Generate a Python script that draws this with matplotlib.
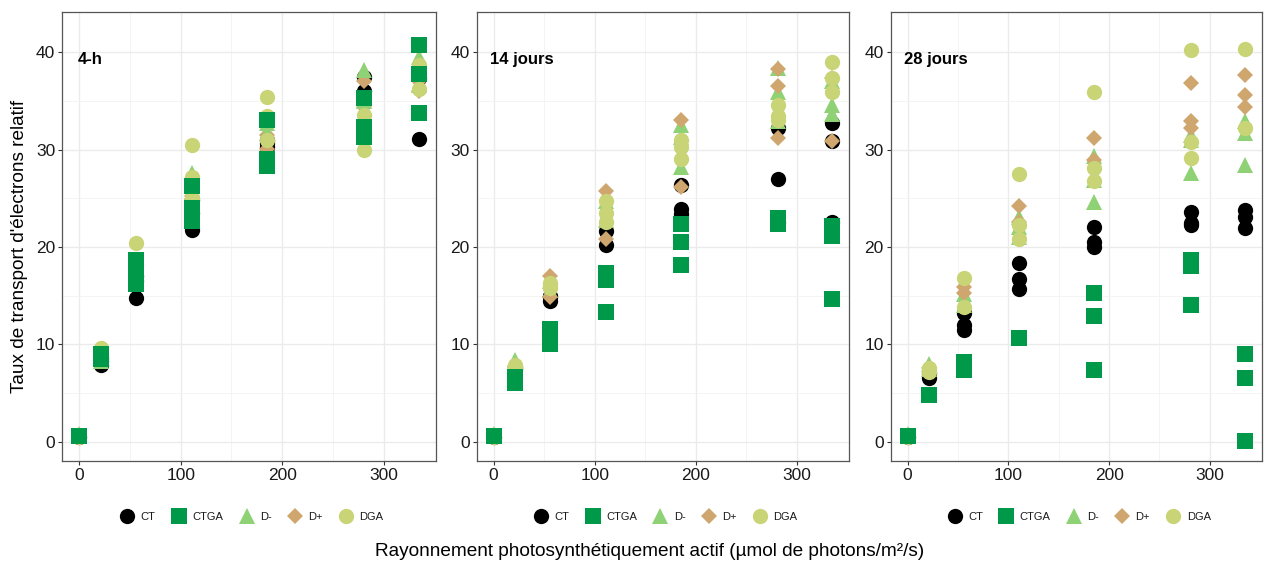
import matplotlib
matplotlib.use("Agg")
import matplotlib.pyplot as plt
from matplotlib.lines import Line2D

plt.rcParams['font.family'] = ['Liberation Sans', 'DejaVu Sans']

par = [0, 21, 56, 111, 185, 281, 335]
treatments = ["CT", "CTGA", "D-", "D+", "DGA"]
panel_titles = ["4-h", "14 jours", "28 jours"]

# values per PAR level (list of replicate values)
h4_CT   = [[0.5], [7.9, 8.3, 8.6], [14.7, 16.5, 17.0], [21.7, 24.8, 23.5], [30.7, 30.3, 31.0], [37.5, 36.0], [31.1, 37.3]]
h4_CTGA = [[0.6], [8.5, 9.0, 8.8], [18.6, 17.8, 16.8, 16.2], [26.3, 24.0, 22.7], [33.0, 29.0, 28.3], [35.3, 32.3, 31.3], [40.7, 37.8, 33.8]]
h4_Dm   = [[0.8], [8.3, 8.7, 9.0], [18.0, 17.2, 16.5], [27.6, 25.6, 23.0], [32.7, 31.7, 28.6], [38.2, 31.8, 35.0], [39.5, 36.6, 38.0]]
h4_Dp   = [[0.5], [8.4, 8.8], [17.5, 16.8], [24.9, 25.2], [32.4, 30.1, 31.5], [37.0, 34.4], [37.0, 36.0]]
h4_DGA  = [[0.5], [9.6, 8.9, 8.6], [20.4, 18.2, 17.0], [30.5, 27.2, 25.0], [35.4, 33.4, 31.0], [30.0, 31.5, 33.5], [38.7, 36.2]]

j14_CT   = [[0.5], [7.7, 7.5], [14.4, 15.0, 14.8], [21.6, 20.2], [26.4, 23.9, 23.4], [32.2, 27.0, 22.6], [32.7, 30.9, 22.6]]
j14_CTGA = [[0.6], [6.6, 6.0], [11.6, 10.0], [17.3, 16.6, 13.3], [22.4, 20.5, 18.1], [23.0, 22.3], [22.1, 21.1, 14.6]]
j14_Dm   = [[0.8], [8.4, 8.0], [16.5, 15.6], [24.7, 22.8], [32.5, 31.3, 28.2], [38.4, 35.9, 32.9], [37.0, 34.6, 33.6]]
j14_Dp   = [[0.5], [7.8], [17.0, 14.9], [25.7, 20.8], [33.0, 26.2], [38.3, 36.5, 31.2], [37.3, 30.9]]
j14_DGA  = [[0.5], [7.9, 7.6], [16.3, 15.8, 16.0], [24.7, 23.5, 22.6], [30.3, 29.0, 31.0], [34.6, 33.4, 33.0], [39.0, 37.4, 35.9]]

j28_CT   = [[0.5], [6.5, 7.0], [13.2, 12.0, 11.5], [18.3, 16.7, 15.7], [22.0, 20.5, 20.0], [23.6, 22.2, 22.5], [23.8, 23.1, 21.9]]
j28_CTGA = [[0.6], [4.8], [8.2, 7.4], [10.6], [15.3, 12.9, 7.4], [18.7, 18.0, 14.0], [9.0, 6.5, 0.1]]
j28_Dm   = [[0.8], [8.0, 7.5], [15.2, 14.0], [23.1, 22.0, 21.0], [29.3, 26.9, 24.6], [31.5, 27.6, 31.0], [32.9, 31.7, 28.4]]
j28_Dp   = [[0.5], [7.6], [15.9, 15.3], [24.2, 22.6], [31.2, 28.9], [36.8, 32.9, 32.2], [37.7, 35.6, 34.4]]
j28_DGA  = [[0.5], [7.6, 7.1], [16.8, 13.8], [27.5, 22.2, 20.8], [35.9, 28.1, 26.8], [40.2, 30.8, 29.1], [40.3, 32.2]]

panels = [
    [h4_CT, h4_CTGA, h4_Dm, h4_Dp, h4_DGA],
    [j14_CT, j14_CTGA, j14_Dm, j14_Dp, j14_DGA],
    [j28_CT, j28_CTGA, j28_Dm, j28_Dp, j28_DGA],
]

colors = ["#000000", "#00994A", "#8FD175", "#CFA66E", "#C9D476"]
markers = ["o", "s", "^", "D", "o"]
msizes = [11, 11, 12, 8, 11]
draw_orders = [[0, 3, 2, 4, 1], [0, 2, 3, 4, 1], [0, 2, 3, 4, 1]]

fig = plt.figure(figsize=(12.65, 5.65), dpi=100)
lefts = [62.3, 476.7, 890.7]
rights = [436.0, 849.3, 1262.0]
W, H = 1265.0, 565.0
bottom = 1 - 461.0 / H
top = 1 - 12.3 / H

for p in range(3):
    ax = fig.add_axes([lefts[p] / W, bottom, (rights[p] - lefts[p]) / W, top - bottom])
    ax.set_facecolor("white")
    for z, t in enumerate(draw_orders[p]):
        xs, ys = [], []
        for i, reps in enumerate(panels[p][t]):
            for v in reps:
                xs.append(par[i])
                ys.append(v)
        ax.plot(xs, ys, linestyle="none", marker=markers[t], color=colors[t],
                markersize=msizes[t], markeredgewidth=0, zorder=3 + z, label=treatments[t])
    ax.set_xlim(-16.75, 351.75)
    ax.set_ylim(-2.0, 44.1)
    ax.set_xticks([0, 100, 200, 300])
    ax.set_yticks([0, 10, 20, 30, 40])
    ax.set_xticks([50, 150, 250], minor=True)
    ax.set_yticks([5, 15, 25, 35], minor=True)
    ax.grid(True, which="major", color="#EBEBEB", linewidth=1.0, zorder=0)
    ax.grid(True, which="minor", color="#F2F2F2", linewidth=0.6, zorder=0)
    ax.set_axisbelow(True)
    ax.tick_params(which="major", length=3, width=0.8, color="#333333",
                   labelsize=12.5, labelcolor="#1a1a1a", pad=2)
    ax.tick_params(which="minor", length=0)
    for s in ax.spines.values():
        s.set_color("#555555")
        s.set_linewidth(0.9)
    ax.text(-2 if p == 0 else -4, 39.3, panel_titles[p], fontsize=12,
            fontweight="bold", ha="left", va="center", zorder=10)

    handles = [Line2D([], [], linestyle="none", marker=markers[t], color=colors[t],
                      markersize=msizes[t], markeredgewidth=0) for t in range(5)]
    cx = (lefts[p] + rights[p]) / 2 / W
    fig.legend(handles, treatments, loc="center", bbox_to_anchor=(cx + 3 / W, 1 - 517.0 / H),
               ncol=5, frameon=False, fontsize=8, handletextpad=0.6,
               columnspacing=1.5, handlelength=1.2, labelcolor="#1a1a1a")

fig.text(20 / W, 1 - 246.0 / H, "Taux de transport d'électrons relatif", rotation=90,
         ha="center", va="center", fontsize=13.7)
fig.text(650.0 / W, 1 - 552.0 / H, "Rayonnement photosynthétiquement actif (µmol de photons/m²/s)",
         ha="center", va="center", fontsize=13.7)

fig.savefig("out.png", dpi=100, facecolor="white")
